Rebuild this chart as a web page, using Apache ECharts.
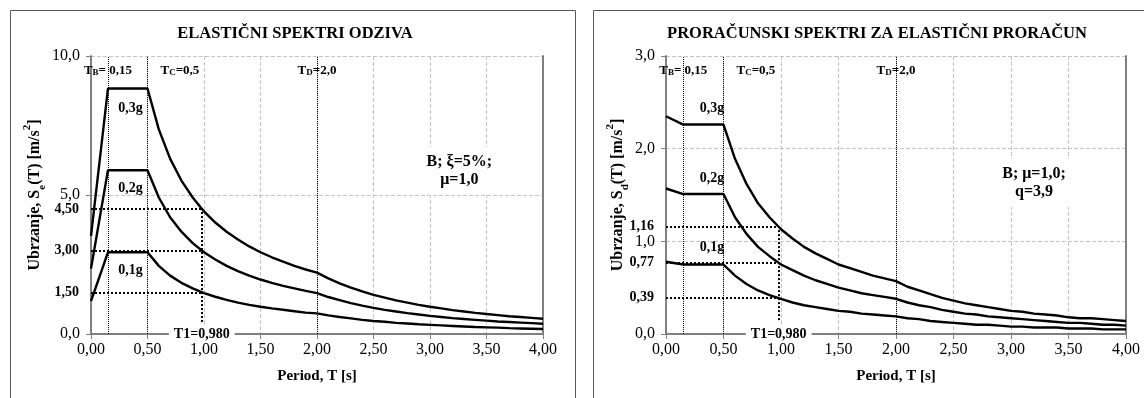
<!DOCTYPE html>
<html lang="hr" style="height: 100%">
<head>
  <meta charset="utf-8">
</head>
<body style="height: 100%; margin: 0; background: #fff">
  <div id="container" style="width: 1144px; height: 398px"></div>

  <script type="text/javascript" src="https://cdn.jsdelivr.net/npm/echarts@6/dist/echarts.min.js"></script>

  <script type="text/javascript">
    // periods T [s]
    var periods = [0, 0.15, 0.5, 0.6, 0.7, 0.8, 0.9, 1.0, 1.1, 1.2, 1.3, 1.4, 1.5, 1.6, 1.7, 1.8, 1.9, 2.0,
      2.1, 2.2, 2.3, 2.4, 2.5, 2.6, 2.7, 2.8, 2.9, 3.0, 3.1, 3.2, 3.3, 3.4, 3.5, 3.6, 3.7, 3.8, 3.9, 4.0];

    // elastic spectra Se(T) [m/s2]
    var elastic01 = [1.18, 2.94, 2.94, 2.45, 2.10, 1.84, 1.64, 1.47, 1.34, 1.23, 1.13, 1.05, 0.98, 0.92, 0.87, 0.82, 0.77, 0.74,
      0.67, 0.61, 0.56, 0.51, 0.47, 0.44, 0.40, 0.38, 0.35, 0.33, 0.31, 0.29, 0.27, 0.25, 0.24, 0.23, 0.21, 0.20, 0.19, 0.18];
    var elastic02 = [2.35, 5.89, 5.89, 4.91, 4.20, 3.68, 3.27, 2.94, 2.68, 2.45, 2.26, 2.10, 1.96, 1.84, 1.73, 1.64, 1.55, 1.47,
      1.33, 1.22, 1.11, 1.02, 0.94, 0.87, 0.81, 0.75, 0.70, 0.65, 0.61, 0.57, 0.54, 0.51, 0.48, 0.45, 0.43, 0.41, 0.39, 0.37];
    var elastic03 = [3.53, 8.83, 8.83, 7.36, 6.31, 5.52, 4.91, 4.41, 4.01, 3.68, 3.40, 3.15, 2.94, 2.76, 2.60, 2.45, 2.32, 2.21,
      2.00, 1.82, 1.67, 1.53, 1.41, 1.31, 1.21, 1.13, 1.05, 0.98, 0.92, 0.86, 0.81, 0.76, 0.72, 0.68, 0.64, 0.61, 0.58, 0.55];

    // design spectra Sd(T) [m/s2]
    var design01 = [0.78, 0.75, 0.75, 0.63, 0.54, 0.47, 0.42, 0.38, 0.34, 0.31, 0.29, 0.27, 0.25, 0.24, 0.22, 0.21, 0.20, 0.19,
      0.17, 0.16, 0.14, 0.13, 0.12, 0.11, 0.10, 0.10, 0.09, 0.08, 0.08, 0.07, 0.07, 0.07, 0.06, 0.06, 0.06, 0.05, 0.05, 0.05];
    var design02 = [1.57, 1.51, 1.51, 1.26, 1.08, 0.94, 0.84, 0.75, 0.69, 0.63, 0.58, 0.54, 0.50, 0.47, 0.44, 0.42, 0.40, 0.38,
      0.34, 0.31, 0.29, 0.26, 0.24, 0.22, 0.21, 0.19, 0.18, 0.17, 0.16, 0.15, 0.14, 0.13, 0.12, 0.12, 0.11, 0.10, 0.10, 0.09];
    var design03 = [2.35, 2.26, 2.26, 1.89, 1.62, 1.41, 1.26, 1.13, 1.03, 0.94, 0.87, 0.81, 0.75, 0.71, 0.67, 0.63, 0.60, 0.57,
      0.51, 0.47, 0.43, 0.39, 0.36, 0.33, 0.31, 0.29, 0.27, 0.25, 0.24, 0.22, 0.21, 0.20, 0.18, 0.17, 0.17, 0.16, 0.15, 0.14];

    var cornerPeriods = [0.15, 0.5, 2.0];
    var cornerNames = ['B', 'C', 'D'];
    var cornerTexts = ['= 0,15', '=0,5', '=2,0'];
    var periodT1 = 0.98;
    var elasticLevels = [1.50, 3.00, 4.50];
    var designLevels = [0.39, 0.77, 1.16];
    var curveNames = ['0,1g', '0,2g', '0,3g'];

    var FONT = '"Liberation Serif", "Times New Roman", serif';
    var dom = document.getElementById('container');
    var myChart = echarts.init(dom, null, { renderer: 'canvas' });

    function comma(v, d) {
      return v.toFixed(d).replace('.', ',');
    }
    function pairs(values) {
      return periods.map(function (t, i) { return [t, values[i]]; });
    }

    function xAxisFor(gi) {
      return {
        type: 'value', gridIndex: gi, min: 0, max: 4, interval: 0.5,
        name: 'Period, T [s]', nameLocation: 'middle', nameGap: 35,
        nameTextStyle: { fontFamily: FONT, fontSize: 15, fontWeight: 'bold', color: '#000' },
        axisLine: { lineStyle: { color: '#808080', width: 2 } },
        axisTick: { show: true, length: 5, lineStyle: { color: '#808080' } },
        axisLabel: { fontFamily: FONT, fontSize: 16, color: '#000', margin: 8,
          formatter: function (v) { return comma(v, 2); } },
        splitLine: { show: true, lineStyle: { color: '#c4c4c4', type: 'dashed', width: 1 } }
      };
    }
    function yAxisFor(gi, max, interval, sub, gap) {
      return {
        type: 'value', gridIndex: gi, min: 0, max: max, interval: interval,
        name: '{n|Ubrzanje, S}{s|' + sub + '}{n|(T) [m/s}{p|2}{n|]}',
        nameLocation: 'middle', nameGap: gap, nameRotate: 90,
        nameTextStyle: {
          rich: {
            n: { fontFamily: FONT, fontSize: 16, fontWeight: 'bold', color: '#000', lineHeight: 20 },
            s: { fontFamily: FONT, fontSize: 11, fontWeight: 'bold', color: '#000', verticalAlign: 'bottom', lineHeight: 14 },
            p: { fontFamily: FONT, fontSize: 11, fontWeight: 'bold', color: '#000', verticalAlign: 'top', lineHeight: 26 }
          }
        },
        axisLine: { show: true, lineStyle: { color: '#808080', width: 2 } },
        axisTick: { show: true, length: 5, lineStyle: { color: '#808080' } },
        axisLabel: { fontFamily: FONT, fontSize: 16, color: '#000', margin: 11,
          formatter: function (v) { return comma(v, 1); } },
        splitLine: { show: true, lineStyle: { color: '#c4c4c4', type: 'dashed', width: 1 } }
      };
    }
    function edgeAxis(gi, max) {
      return {
        type: 'value', gridIndex: gi, position: 'right', min: 0, max: max,
        axisLine: { show: true, lineStyle: { color: '#808080', width: 2 } },
        axisTick: { show: false }, axisLabel: { show: false }, splitLine: { show: false }
      };
    }

    var bold = { fontFamily: FONT, fontWeight: 'bold', color: '#000' };

    function panelSeries(gi, curves, levels, yMax, cfg) {
      var xi = gi, yi = gi * 2;
      var list = curves.map(function (vals, k) {
        return {
          type: 'line', xAxisIndex: xi, yAxisIndex: yi, data: pairs(vals),
          symbol: 'none', silent: true,
          lineStyle: { color: '#000', width: 2.4 }, z: 3
        };
      });
      // corner period dotted lines + labels
      list[0].markLine = {
        silent: true, symbol: ['none', 'none'], label: { show: false },
        lineStyle: { color: '#000', type: 'dotted', width: 1 },
        data: cornerPeriods.map(function (t) { return { xAxis: t }; })
      };
      list[0].markPoint = {
        silent: true, symbol: 'rect', symbolSize: 0,
        label: {
          show: true, position: 'inside',
          rich: {
            t: { fontFamily: FONT, fontSize: 13, fontWeight: 'bold', color: '#000' },
            s: { fontFamily: FONT, fontSize: 9, fontWeight: 'bold', color: '#000', verticalAlign: 'bottom', lineHeight: 10 }
          }
        },
        data: cornerPeriods.map(function (t, k) {
          var d = {
            coord: [t, yMax * cfg.cornerY],
            label: { formatter: '{t|T}{s|' + cornerNames[k] + '}{t|' + cornerTexts[k] + '}' }
          };
          if (k === 1) {
            d.label.position = 'right';
            d.label.distance = 13;
          }
          return d;
        })
      };
      // T1 reference lines
      var ml = [];
      levels.forEach(function (lv) {
        ml.push([{ coord: [0, lv], label: { show: true, position: 'start', distance: 12,
          formatter: comma(lv, 2), fontFamily: FONT, fontSize: 14, fontWeight: 'bold', color: '#000' } },
          { coord: [periodT1, lv] }]);
      });
      ml.push([{ coord: [periodT1, cfg.t1Bottom] }, { coord: [periodT1, levels[2]] }]);
      list[1].markLine = {
        silent: true, symbol: ['none', 'none'], label: { show: false },
        lineStyle: { color: '#000', type: 'dotted', width: 2 },
        data: ml
      };
      // text labels
      var pts = curveNames.map(function (n, k) {
        return { coord: cfg.curveLabelAt[k], label: { formatter: n } };
      });
      pts.push({ coord: [periodT1, 0], label: { formatter: 'T1=0,980', backgroundColor: '#fff', padding: [1, 5] } });
      pts.push({ coord: cfg.noteAt, label: { formatter: cfg.note, fontSize: 16, lineHeight: 18,
        backgroundColor: '#fff', padding: [7, 4, 5, 4] } });
      list[2].markPoint = {
        silent: true, symbol: 'rect', symbolSize: 0,
        label: Object.assign({ show: true, position: 'inside', fontSize: 14 }, bold),
        data: pts
      };
      return list;
    }

    var option = {
      animation: false,
      backgroundColor: '#fff',
      title: [
        { text: 'ELASTIČNI SPEKTRI ODZIVA', left: 290, top: 20, textAlign: 'center',
          textStyle: { fontFamily: FONT, fontSize: 16.5, fontWeight: 'bold', color: '#000' } },
        { text: 'PRORAČUNSKI SPEKTRI ZA ELASTIČNI PRORAČUN', left: 872, top: 20, textAlign: 'center',
          textStyle: { fontFamily: FONT, fontSize: 16.5, fontWeight: 'bold', color: '#000' } }
      ],
      graphic: [
        { type: 'rect', left: 8, top: 8, shape: { width: 565, height: 420 },
          style: { fill: 'none', stroke: '#595959', lineWidth: 1 }, silent: true },
        { type: 'rect', left: 591, top: 8, shape: { width: 580, height: 420 },
          style: { fill: 'none', stroke: '#595959', lineWidth: 1 }, silent: true }
      ],
      grid: [
        { left: 91, top: 56, width: 452, height: 278 },
        { left: 666, top: 56, width: 460, height: 278 }
      ],
      xAxis: [xAxisFor(0), xAxisFor(1)],
      yAxis: [yAxisFor(0, 10, 5, 'e', 41), edgeAxis(0, 10), yAxisFor(1, 3, 1, 'd', 33), edgeAxis(1, 3)],
      series: [].concat(
        panelSeries(0, [elastic01, elastic02, elastic03], elasticLevels, 10, {
          cornerY: 0.946, t1Bottom: 0.43,
          curveLabelAt: [[0.35, 2.30], [0.35, 5.22], [0.35, 8.13]],
          noteAt: [3.26, 5.86], note: 'B; ξ=5%;\nμ=1,0'
        }),
        panelSeries(1, [design01, design02, design03], designLevels, 3, {
          cornerY: 0.946, t1Bottom: 0.15,
          curveLabelAt: [[0.4, 0.94], [0.4, 1.68], [0.4, 2.44]],
          noteAt: [3.2, 1.63], note: 'B; μ=1,0;\nq=3,9'
        })
      )
    };

    myChart.setOption(option);
    window.addEventListener('resize', myChart.resize);
  </script>
</body>
</html>
